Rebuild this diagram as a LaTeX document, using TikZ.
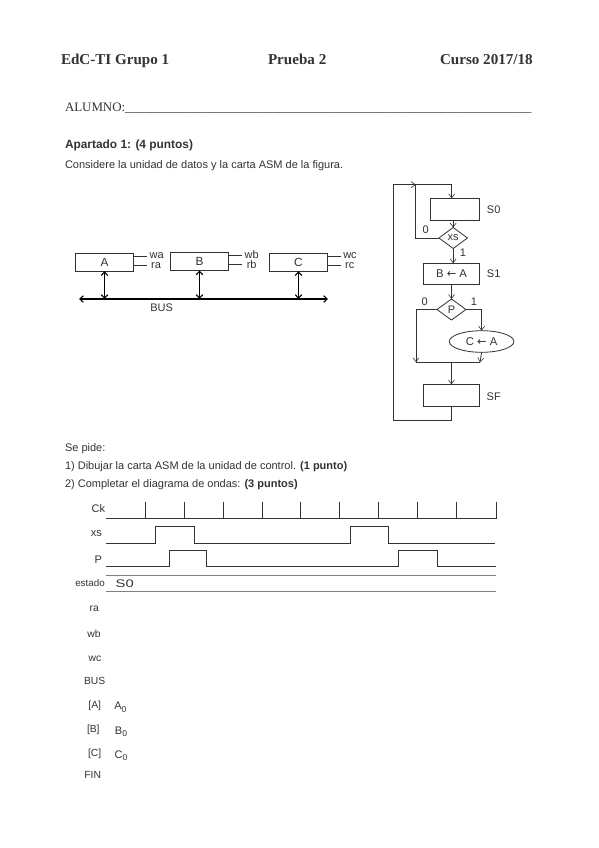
\documentclass[tikz,border=0pt]{standalone}
\usepackage{fontspec}
\usepackage{graphicx}
\setmainfont{Liberation Serif}
\setsansfont{Liberation Sans}
\newfontfamily\arrowfont{DejaVu Sans}
\usetikzlibrary{arrows.meta,shapes.geometric,calc}
\definecolor{ink}{gray}{0.2}
\newcommand{\subz}{\raisebox{-2.5pt}{\fontsize{8.5}{10}\selectfont 0}}
\newcommand{\asgn}{{\arrowfont ←}}
\tikzset{
  every node/.style={inner sep=0pt,outer sep=0pt,font=\sffamily\fontsize{11}{12}\selectfont,text=ink},
  wire/.style={draw=ink,line width=0.8pt},
  flow/.style={wire,-{Straight Barb[length=4pt,width=6pt,line width=0.6pt]}},
  busarrow/.style={draw=black,line width=1.1pt,{Straight Barb[length=3.5pt,width=6.5pt]}-{Straight Barb[length=3.5pt,width=6.5pt]}},
  regbox/.style={draw=ink,line width=0.8pt,rectangle,minimum width=57.6pt,minimum height=18pt,font=\sffamily\fontsize{11.8}{12}\selectfont},
  asmbox/.style={draw=ink,line width=0.8pt,rectangle},
  decision/.style={draw=ink,line width=0.8pt,diamond,aspect=1.35,minimum width=29pt,minimum height=21pt},
  head/.style={font=\rmfamily\bfseries\fontsize{15.1}{18}\selectfont,anchor=base west},
  para/.style={anchor=base west,font=\sffamily\fontsize{11}{12}\selectfont},
  small/.style={font=\sffamily\fontsize{10.3}{12}\selectfont},
  wave/.style={draw=ink,line width=0.9pt},
  rowline/.style={draw=gray,line width=0.7pt},
}
\begin{document}
\begin{tikzpicture}[x=1pt,y=-1pt]
\useasboundingbox (0,0) rectangle (599,848);
\fill[white] (0,0) rectangle (599,848);
% header
\node[head] (h1) at (61,64.5) {EdC-TI Grupo 1};
\node[head] (h2) at (268,64.5) {Prueba 2};
\node[head] (h3) at (440,64.5) {Curso 2017/18};
\node[anchor=base west,font=\rmfamily\fontsize{12.9}{15}\selectfont] (alumno) at (65,111.5) {ALUMNO:\_\_\_\_\_\_\_\_\_\_\_\_\_\_\_\_\_\_\_\_\_\_\_\_\_\_\_\_\_\_\_\_\_\_\_\_\_\_\_\_\_\_\_\_\_\_\_\_\_\_\_\_\_\_\_\_\_\_\_\_\_\_\_};
\node[para,font=\sffamily\bfseries\fontsize{11.9}{14}\selectfont] (ap) at (65,148) {Apartado 1: (4 puntos)};
\node[para] (cons) at (65,168) {Considere la unidad de datos y la carta ASM de la figura.};
\node[para] (se) at (65,451) {Se pide:};
\node[para] (p1) at (65,469) {1) Dibujar la carta ASM de la unidad de control. \textbf{(1 punto)}};
\node[para] (p2) at (65,487) {2) Completar el diagrama de ondas: \textbf{(3 puntos)}};
% datapath
\node[regbox] (A) at (104.5,262.2) {A};
\node[regbox] (B) at (199.5,261.5) {B};
\node[regbox] (C) at (298.5,262.2) {C};
\node (la) at (156.7,256) {wa};
\node (lb) at (156,265.5) {ra};
\node (lc) at (251.7,254.5) {wb};
\node (ld) at (251.7,264.5) {rb};
\node (le) at (350,256) {wc};
\node (lf) at (349.7,265.5) {rc};
\coordinate (ea) at (147,256.3);
\coordinate (eb) at (147,265);
\coordinate (ec) at (241.7,255.3);
\coordinate (ed) at (241.7,264);
\coordinate (ee) at (340.7,256.3);
\coordinate (ef) at (340.7,265);
\draw[wire] (A.east |- ea) -- (ea);
\draw[wire] (A.east |- eb) -- (eb);
\draw[wire] (B.east |- ec) -- (ec);
\draw[wire] (B.east |- ed) -- (ed);
\draw[wire] (C.east |- ee) -- (ee);
\draw[wire] (C.east |- ef) -- (ef);
\coordinate (busL) at (79,299);
\coordinate (busR) at (328,299);
\draw[busarrow] (busL) -- (busR);
\draw[busarrow] (A.south) -- (A.south |- busL);
\draw[busarrow] (B.south) -- (B.south |- busL);
\draw[busarrow] (C.south) -- (C.south |- busL);
\node (buslab) at (161.7,307.5) {BUS};
% ASM
\node[asmbox,minimum width=49.7pt,minimum height=22pt] (S0) at (454.8,209.3) {};
\node[decision,minimum width=28.5pt] (xs) at (453.2,238) {xs};
\node[asmbox,minimum width=56.4pt,minimum height=21.4pt,font=\sffamily\fontsize{11.3}{12}\selectfont] (S1) at (451.5,274) {B \asgn{} A};
\node[decision] (Pd) at (451.5,309.5) {P};
\node[draw=ink,line width=0.8pt,ellipse,minimum width=64.6pt,minimum height=21.6pt,font=\sffamily\fontsize{11.3}{12}\selectfont] (el) at (481.6,341.5) {C \asgn{} A};
\node[asmbox,minimum width=56.4pt,minimum height=21.7pt] (SF) at (451.5,395.2) {};
\node (tS0) at (493.7,209.5) {S0};
\node (tS1) at (493.7,274) {S1};
\node (tSF) at (493.7,397) {SF};
\node (z1) at (425.7,230) {0};
\node (o1) at (463,253) {1};
\node (z2) at (424.7,302) {0};
\node (o2) at (474,302) {1};
\coordinate (topJ) at (415.7,184.7);
\coordinate (mL) at (416,362.3);
\coordinate (mR) at (480,362.3);
\coordinate (mC) at (451.5,362.3);
\draw[flow] (xs.west) -| (topJ) -| (S0.north -| 451.7,0);
\draw[flow] (S0.south -| xs.north) -- (xs.north);
\draw[flow] (xs.south) -- (xs.south |- S1.north);
\draw[flow] (S1.south) -- (Pd.north);
\draw[flow] (Pd.east) -| (el.north);
\draw[flow] (Pd.west) -| (mL);
\draw[flow] (el.south) -- (mR);
\draw[wire] (mL) -- (mR);
\draw[flow] (mC) -- (SF.north);
\coordinate (fbB) at (393.7,420);
\draw[flow] (SF.south) -- (SF.south |- fbB) -- (fbB) |- (topJ);
% waveforms
\node (ck) at (98.3,508.3) {Ck};
\node (xsl) at (96.3,533.7) {xs};
\node (pl) at (98.3,559.7) {P};
\node[font=\sffamily\fontsize{9.8}{10}\selectfont] (est) at (90,583) {estado};
\node[font=\sffamily\fontsize{11}{12}\selectfont] (so) at (124.8,583.5) {\scalebox{1.35}[1]{S0}};
\coordinate (w0) at (106,0);
\coordinate (w1) at (496,0);
\draw[wave] (w0 |- 0,518.3) -- (w1 |- 0,518.3) -- (w1 |- 0,501.7);
\foreach \t in {145,184,223,262,300.7,339.7,378.3,417,456.3}
  \draw[wave] (\t,518.3) -- (\t,501.7);
\draw[wave] (106,543) -- (155.3,543) -- (155.3,526) -- (194.3,526) -- (194.3,543) -- (350,543) -- (350,526) -- (388.7,526) -- (388.7,543) -- (495,543);
\draw[wave] (106,566.7) -- (169,566.7) -- (169,550.7) -- (206,550.7) -- (206,566.7) -- (398.3,566.7) -- (398.3,550.7) -- (437,550.7) -- (437,566.7) -- (496,566.7);
\draw[rowline] (w0 |- 0,575.3) -- (495.5,575.3);
\draw[rowline] (w0 |- 0,591.7) -- (495.5,591.7);
\node[small] (ra) at (94.3,608.7) {ra};
\node[small] (wb) at (94,634) {wb};
\node[small] (wc) at (95,658.3) {wc};
\node[small] (bus) at (94.7,681.3) {BUS};
\node[small] (ga) at (94.7,705.7) {[A]};
\node[small] (gb) at (93.3,730) {[B]};
\node[small] (gc) at (94.7,754) {[C]};
\node[small] (fin) at (92.7,775.3) {FIN};
\node[small,font=\sffamily\fontsize{11}{12}\selectfont] (a0) at (120.3,707) {A\subz};
\node[small,font=\sffamily\fontsize{11}{12}\selectfont] (b0) at (121,731.5) {B\subz};
\node[small,font=\sffamily\fontsize{11}{12}\selectfont] (c0) at (121,755.5) {C\subz};
\end{tikzpicture}
\end{document}
